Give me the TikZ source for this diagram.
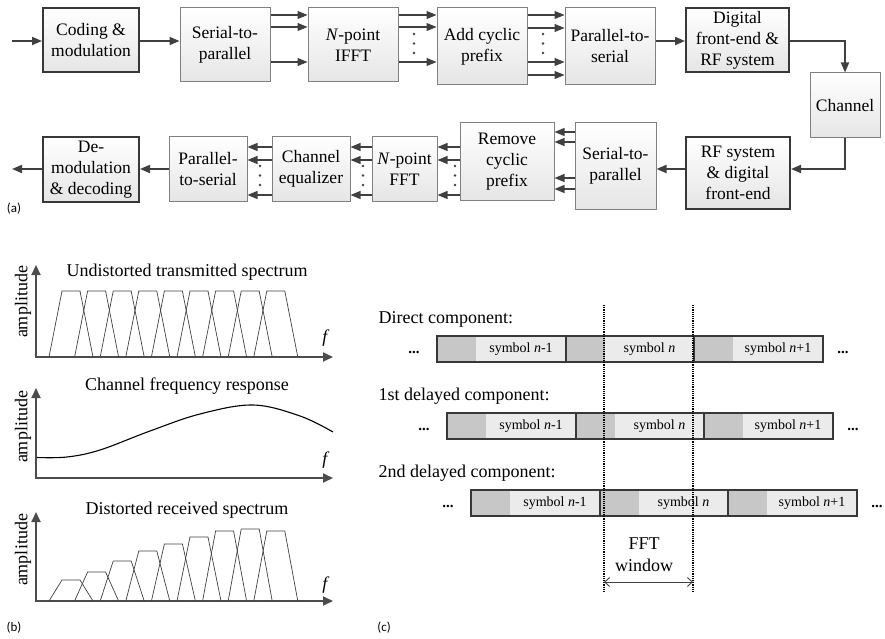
\documentclass[tikz,border=0pt]{standalone}
\usepackage{fontspec}
\setmainfont{Liberation Serif}
\newfontfamily\labfont{Carlito}
\usetikzlibrary{arrows.meta}

\newcommand{\boxfont}{\fontsize{17.5}{21}\selectfont}
\newcommand{\ttlfont}{\fontsize{18}{21}\selectfont}
\newcommand{\symfont}{\fontsize{14}{16}\selectfont}

\begin{document}
\begin{tikzpicture}[x=1pt,y=-1pt,
    blk/.style={draw=black!50, line width=1pt, top color=white, bottom color=black!10,
                align=center, inner sep=0pt, font=\boxfont},
    blkb/.style={blk, draw=black!78, line width=2pt},
    arr/.style={draw=black!75, line width=1.8pt, -{Triangle[length=10pt,width=8pt]}},
    sub/.style={draw=black!75, line width=1.1pt, -{Triangle[length=10pt,width=8pt]}},
    axis/.style={draw=black!70, line width=1.8pt,
                 {Triangle[length=10pt,width=9pt]}-{Triangle[length=10pt,width=9pt]}},
    trap/.style={draw=black!75, line width=0.7pt},
    bar/.style={draw=black!78, line width=2pt},
    winline/.style={draw=black, line width=1.2pt, densely dotted}]

    \useasboundingbox (0,0) rectangle (885,639);

    % Transmitter chain
    \node[blkb, minimum width=96pt, minimum height=64pt] (coding) at (91,40) {Coding \&\\modulation};
    \node[blk, minimum width=90pt, minimum height=74pt] (s2p) at (225,45) {Serial-to-\\parallel};
    \node[blk, minimum width=90pt, minimum height=74pt] (ifft) at (353,45) {\textit{N}-point\\IFFT};
    \node[blk, minimum width=90pt, minimum height=77pt] (acp) at (482,46.5) {Add cyclic\\prefix};
    \node[blk, minimum width=90pt, minimum height=77pt] (p2s) at (610,46.5) {Parallel-to-\\serial};
    \node[blkb, minimum width=103pt, minimum height=64pt] (dfe) at (737.5,40) {Digital\\front-end \&\\RF system};
    \node[blk, minimum width=70pt, minimum height=65pt] (chan) at (845,105.5) {Channel};

    % Receiver chain
    \node[blkb, minimum width=104pt, minimum height=72pt] (rf) at (738,173) {RF system\\\& digital\\front-end};
    \node[blk, minimum width=81pt, minimum height=86pt] (rs2p) at (615.5,166) {Serial-to-\\parallel};
    \node[blk, minimum width=94pt, minimum height=77pt] (rcp) at (507,161.5) {Remove\\cyclic\\prefix};
    \node[blk, minimum width=65pt, minimum height=64pt] (fft) at (404.5,169) {\textit{N}-point\\FFT};
    \node[blk, minimum width=78pt, minimum height=64pt] (ceq) at (311,169) {Channel\\equalizer};
    \node[blk, minimum width=78pt, minimum height=64pt] (rp2s) at (208,169) {Parallel-\\to-serial};
    \node[blkb, minimum width=96pt, minimum height=65pt] (demod) at (91,169.5) {De-\\modulation\\\& decoding};

    \coordinate (txin) at (12,41);
    \coordinate (rxout) at (12,169);

    % Connections
    \draw[arr] (txin) -- (coding.west |- txin);
    \draw[arr] (coding.east |- txin) -- (s2p.west |- txin);
    \foreach \y in {15,27,62} {
        \draw[sub] (s2p.east |- 0,\y) -- (ifft.west |- 0,\y);
        \draw[sub] (ifft.east |- 0,\y) -- (acp.west |- 0,\y);
    }
    \foreach \y in {15,28,62,75}
        \draw[sub] (acp.east |- 0,\y) -- (p2s.west |- 0,\y);
    \draw[arr] (p2s.east |- txin) -- (dfe.west |- txin);
    \draw[arr] (dfe.east |- txin) -| (chan.north);
    \draw[arr] (chan.south) |- (rf.east |- rxout);
    \draw[arr] (rf.west |- rxout) -- (rs2p.east |- rxout);
    \foreach \y in {132,142,178,189}
        \draw[sub] (rs2p.west |- 0,\y) -- (rcp.east |- 0,\y);
    \foreach \y in {147,160,195} {
        \draw[sub] (rcp.west |- 0,\y) -- (fft.east |- 0,\y);
        \draw[sub] (fft.west |- 0,\y) -- (ceq.east |- 0,\y);
        \draw[sub] (ceq.west |- 0,\y) -- (rp2s.east |- 0,\y);
    }
    \draw[arr] (rp2s.west |- rxout) -- (demod.east |- rxout);
    \draw[arr] (demod.west |- rxout) -- (rxout);

    % Dots between parallel lines
    \foreach \x/\y in {414/34, 543/34, 455/166, 363/166, 260/166}
        \foreach \d in {0,9.5,19}
            \fill[black!75] (\x,\y+\d) circle (1.4pt);

    \node[font=\labfont\fontsize{13}{15}\selectfont] (laba) at (14,209) {(a)};

    % Spectra
    \draw[axis] (36,265) |- (333,357);
    \draw[axis] (36,388) |- (333,478);
    \draw[axis] (36,512) |- (333,601);
    \node[font=\ttlfont] (ttl1) at (187,272) {Undistorted transmitted spectrum};
    \node[font=\ttlfont] (ttl2) at (187,386) {Channel frequency response};
    \node[font=\ttlfont] (ttl3) at (187,510) {Distorted received spectrum};
    \foreach \y/\n in {302/amp1, 427/amp2, 550/amp3}
        \node[font=\ttlfont, rotate=90] (\n) at (23,\y) {amplitude};
    \foreach \y/\n in {338/f1, 460/f2, 585/f3}
        \node[font=\ttlfont] (\n) at (326,\y) {\textit{f}};

    \foreach \i in {0,...,8} {
        \pgfmathsetmacro\bl{49+25.6*\i}
        \draw[trap] (\bl,357) -- (\bl+13,291) -- (\bl+31,291) -- (\bl+44,357);
    }
    \draw[draw=black, line width=1.1pt] plot[smooth, tension=0.6] coordinates
        {(37,457.5) (67,457) (100,450) (150,431) (200,414) (253,405) (300,416) (333,432)};
    \foreach \i/\t in {0/580,1/572,2/561,3/551,4/544,5/537,6/531,7/529,8/531} {
        \pgfmathsetmacro\bl{49+25.6*\i}
        \draw[trap] (\bl,601) -- (\bl+13,\t) -- (\bl+31,\t) -- (\bl+44,601);
    }

    \node[font=\labfont\fontsize{13}{15}\selectfont] (labb) at (14,628) {(b)};

    % Multipath symbols
    \node[font=\ttlfont, anchor=west] (direct) at (375,319) {Direct component:};
    \node[font=\ttlfont, anchor=west] (first) at (375,396) {1st delayed component:};
    \node[font=\ttlfont, anchor=west] (second) at (375,473) {2nd delayed component:};
    \foreach \x/\y in {437/336, 447/413, 471/490} {
        \foreach \s/\lab in {0/{symbol \textit{n}-1}, 1/{symbol \textit{n}}, 2/{symbol \textit{n}+1}} {
            \fill[black!22] (\x+128.5*\s,\y) rectangle (\x+128.5*\s+39,\y+26);
            \fill[black!8] (\x+128.5*\s+39,\y) rectangle (\x+128.5*\s+128.5,\y+26);
            \node[font=\symfont] at (\x+128.5*\s+84,\y+13) {\lab};
        }
        \draw[bar] (\x,\y) rectangle (\x+385.5,\y+26);
        \draw[bar] (\x+128.5,\y) -- (\x+128.5,\y+26);
        \draw[bar] (\x+257,\y) -- (\x+257,\y+26);
        \node[font=\bfseries\fontsize{15}{17}\selectfont, anchor=base] at (\x-23,\y+17) {...};
        \node[font=\bfseries\fontsize{15}{17}\selectfont, anchor=base] at (\x+406,\y+17) {...};
    }

    % FFT window
    \coordinate (wlt) at (604,305);
    \coordinate (wlb) at (604,592);
    \coordinate (wrt) at (693,305);
    \coordinate (wrb) at (693,592);
    \draw[winline] (wlt) -- (wlb);
    \draw[winline] (wrt) -- (wrb);
    \node[align=center, font=\fontsize{18}{22}\selectfont] (fftwin) at (644,555) {FFT\\window};
    \draw[draw=black!75, line width=0.9pt, {Straight Barb[length=5pt,width=9pt]}-{Straight Barb[length=5pt,width=9pt]}]
        (wlt |- 0,582) -- (wrt |- 0,582);

    \node[font=\labfont\fontsize{13}{15}\selectfont] (labc) at (384,628) {(c)};

\end{tikzpicture}
\end{document}
